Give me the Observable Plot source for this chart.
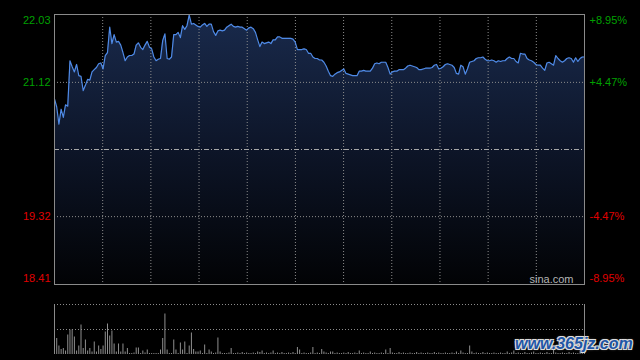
<!DOCTYPE html>
<html>
<head>
<meta charset="utf-8">
<script src="https://cdn.jsdelivr.net/npm/d3@7"></script>
<script src="https://cdn.jsdelivr.net/npm/@observablehq/plot@0.6"></script>
<style>
  html, body { margin: 0; padding: 0; background: #000; }
  #wrap { position: relative; width: 640px; height: 360px; background: #000; overflow: hidden; }
  #price { position: absolute; left: 0; top: 0; }
  #vol { position: absolute; left: 0; top: 290px; }
  #wm { position: absolute; left: 515px; top: 335px; font: bold italic 16px "Liberation Sans", Arial, sans-serif; color: #1f56a6;
        white-space: nowrap;
        text-shadow: -1px -1px 0 #ddd, 1px -1px 0 #ddd, -1px 1px 0 #ddd, 1px 1px 0 #ddd, 0 0 3px #888; }
</style>
</head>
<body>
<div id="wrap"><div id="price"></div><div id="vol"></div><div id="wm">www.365jz.com</div></div>
<script>
// Intraday price, one value per minute (0 = 09:30 ... 240 = 15:00)
const prices = [
  20.90,20.79,20.56,20.76,20.65,20.82,20.80,21.41,21.33,21.26,
  21.36,21.21,21.20,21.01,21.08,21.16,21.15,21.26,21.29,21.32,
  21.37,21.38,21.30,21.48,21.52,21.86,21.64,21.76,21.66,21.67,
  21.62,21.52,21.41,21.46,21.48,21.48,21.50,21.62,21.65,21.59,
  21.56,21.62,21.67,21.59,21.57,21.46,21.41,21.43,21.44,21.68,
  21.77,21.44,21.43,21.46,21.76,21.76,21.79,21.72,21.88,21.83,
  21.88,22.02,21.90,21.91,21.89,21.87,21.86,21.89,21.91,21.87,
  21.90,21.90,21.80,21.75,21.81,21.82,21.81,21.82,21.86,21.88,
  21.90,21.87,21.86,21.87,21.86,21.86,21.84,21.82,21.85,21.86,
  21.84,21.79,21.69,21.60,21.66,21.64,21.65,21.66,21.64,21.69,
  21.69,21.73,21.73,21.71,21.71,21.71,21.71,21.71,21.70,21.66,
  21.56,21.56,21.56,21.57,21.56,21.51,21.51,21.46,21.44,21.44,
  21.42,21.42,21.39,21.34,21.27,21.21,21.20,21.23,21.25,21.26,
  21.28,21.30,21.24,21.23,21.22,21.21,21.21,21.21,21.27,21.27,
  21.28,21.27,21.27,21.27,21.31,21.37,21.38,21.37,21.39,21.39,
  21.39,21.32,21.23,21.26,21.27,21.27,21.29,21.29,21.29,21.31,
  21.34,21.35,21.34,21.33,21.32,21.29,21.29,21.30,21.31,21.31,
  21.31,21.32,21.35,21.36,21.30,21.31,21.33,21.36,21.37,21.36,
  21.35,21.32,21.24,21.23,21.35,21.33,21.23,21.30,21.39,21.40,
  21.41,21.44,21.45,21.45,21.46,21.43,21.41,21.41,21.42,21.41,
  21.39,21.41,21.40,21.41,21.41,21.44,21.46,21.44,21.44,21.40,
  21.38,21.51,21.50,21.50,21.44,21.42,21.41,21.39,21.36,21.35,
  21.35,21.31,21.28,21.38,21.39,21.37,21.35,21.48,21.44,21.41,
  21.39,21.41,21.44,21.45,21.44,21.39,21.45,21.40,21.44,21.46,
  21.46
];
// Volume per minute (relative units, panel top = 100)
const volumes = [
  98,32,17,10,12,7,39,49,49,35,
  7,17,59,12,29,7,12,5,25,5,
  17,10,17,45,61,37,47,21,5,21,
  5,21,5,12,2,2,3,13,13,2,
  7,3,9,2,2,2,2,2,9,32,
  81,9,2,2,29,9,2,23,9,25,
  2,17,43,10,5,5,7,2,19,2,
  9,5,2,3,33,5,2,2,2,3,
  12,2,2,3,2,4,2,3,2,2,
  3,2,5,4,7,2,3,2,3,7,
  2,3,2,4,2,2,3,2,4,2,
  14,9,2,3,2,2,3,14,2,3,
  2,10,5,3,2,5,5,2,3,2,
  2,3,2,4,2,2,3,2,7,2,
  3,2,2,5,2,3,2,2,3,2,
  9,2,12,3,2,2,4,2,3,2,
  2,3,2,2,4,2,3,2,2,3,
  2,2,4,2,3,2,2,3,2,2,
  3,2,5,2,7,3,2,2,17,5,
  2,3,2,2,4,2,3,2,2,3,
  2,2,3,2,2,5,2,3,7,2,
  3,2,2,4,2,2,3,5,2,2,
  3,2,2,4,2,2,9,3,2,2,
  3,2,2,4,2,3,2,2,7,3,
  2
];
const prevClose = 20.22;
const priceTicks = [22.03, 21.12, 19.32, 18.41];
const pctLabels = ["+8.95%", "+4.47%", "-4.47%", "-8.95%"];
const tickColors = ["#00a000", "#00a000", "#e00000", "#e00000"];
const brand = "sina.com";
const minutes = 240;
const vDivisions = 11;

const vgrid = d3.range(1, vDivisions).map(k => k * minutes / vDivisions);
const priceData = prices.map((p, i) => ({ t: i, p }));
const volData = volumes.map((v, i) => ({ t: i, v }));

const defs = () => {
  const d = d3.create("svg:defs");
  const g = d.append("linearGradient").attr("id", "pg").attr("x1", 0).attr("y1", 0).attr("x2", 0).attr("y2", 1);
  g.append("stop").attr("offset", "0").attr("stop-color", "#192a4c");
  g.append("stop").attr("offset", "0.5").attr("stop-color", "#0d1528");
  g.append("stop").attr("offset", "1").attr("stop-color", "#020305");
  return d.node();
};

const dys = [6, 0, 0, -6];
const font = '"Liberation Sans", Arial, sans-serif';

const pricePlot = Plot.plot({
  width: 640, height: 290,
  marginTop: 14, marginBottom: 6, marginLeft: 54, marginRight: 56,
  style: { background: "#000", fontFamily: font, overflow: "visible" },
  x: { domain: [0, minutes], axis: null },
  y: { domain: [priceTicks[3], priceTicks[0]], axis: null },
  marks: [
    defs,
    Plot.areaY(priceData, { x: "t", y1: priceTicks[3], y2: "p", fill: "url(#pg)" }),
    Plot.ruleY([priceTicks[1], priceTicks[2]], { stroke: "#8c8c8c", strokeDasharray: "1,2", strokeWidth: 1 }),
    Plot.ruleX(vgrid, { stroke: "#8c8c8c", strokeDasharray: "1,2", strokeWidth: 1 }),
    Plot.ruleY([prevClose], { stroke: "#a8a8a8", strokeDasharray: "5,2,1,2", strokeWidth: 1 }),
    Plot.lineY(priceData, { x: "t", y: "p", stroke: "#4f8ae6", strokeWidth: 1.2 }),
    Plot.frame({ stroke: "#8a8a8a", strokeWidth: 1 }),
    ...priceTicks.map((v, i) => Plot.text([v], {
      x: 0, y: d => d, text: d => d.toFixed(2), dx: -4, dy: dys[i],
      textAnchor: "end", fill: tickColors[i], fontSize: 11
    })),
    ...priceTicks.map((v, i) => Plot.text([v], {
      x: minutes, y: d => d, text: () => pctLabels[i], dx: 5, dy: dys[i],
      textAnchor: "start", fill: tickColors[i], fontSize: 11
    })),
    Plot.text([brand], { x: minutes, y: priceTicks[3], text: d => d, dx: -11, dy: -5, textAnchor: "end", fill: "#b4b4b4", fontSize: 11 })
  ]
});
document.getElementById("price").appendChild(pricePlot);

const volPlot = Plot.plot({
  width: 640, height: 70,
  marginTop: 14, marginBottom: 6, marginLeft: 54, marginRight: 56,
  style: { background: "#000", fontFamily: font, overflow: "visible" },
  x: { domain: [0, minutes], axis: null },
  y: { domain: [0, 100], axis: null },
  marks: [
    Plot.ruleY([100, 50], { stroke: "#8c8c8c", strokeDasharray: "1,2", strokeWidth: 1 }),
    Plot.ruleX(volData, { x: "t", y1: 0, y2: "v", stroke: "#8f8f8f", strokeWidth: 1 }),
    Plot.ruleX([0, minutes], { stroke: "#8a8a8a", strokeWidth: 1 })
  ]
});
document.getElementById("vol").appendChild(volPlot);
</script>
</body>
</html>
